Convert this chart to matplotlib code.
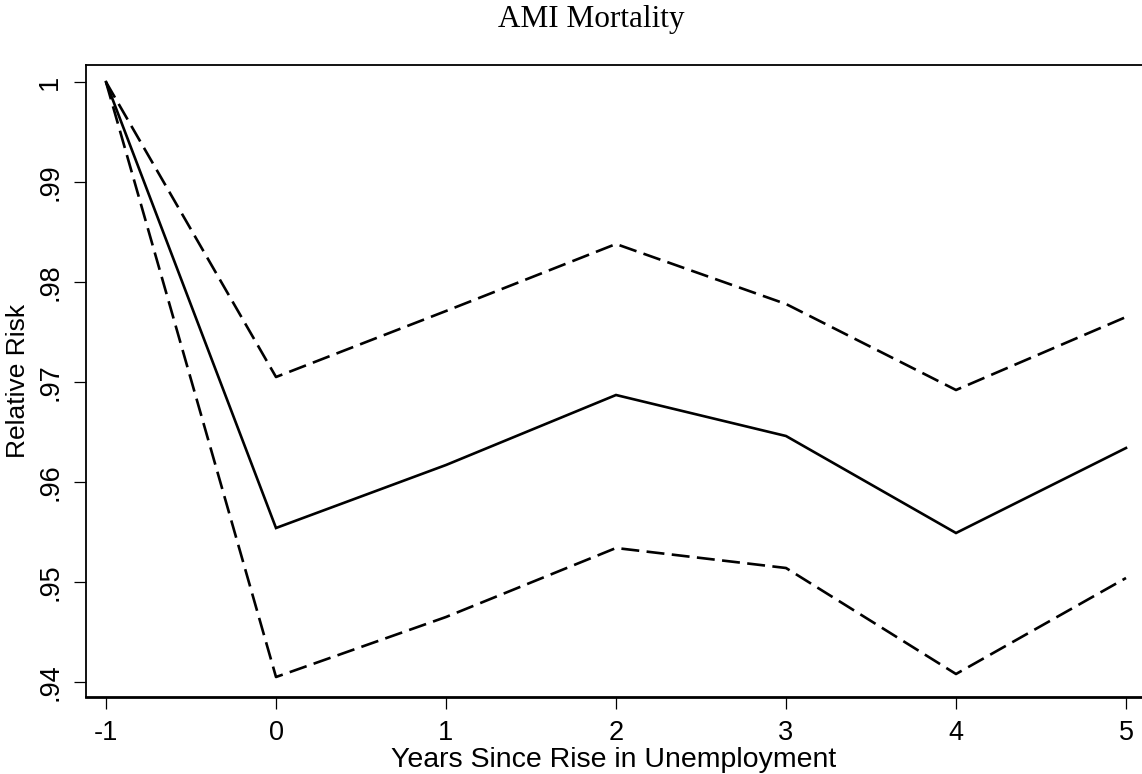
import matplotlib
matplotlib.use("Agg")
import matplotlib.pyplot as plt

# relative risk by year since the rise in unemployment, with 95% bounds
years = [-1, 0, 1, 2, 3, 4, 5]
estimate = [1.0, 0.9554, 0.9617, 0.9687, 0.9646, 0.9549, 0.9634]
upper = [1.0, 0.9705, 0.9771, 0.9838, 0.9778, 0.9692, 0.9765]
lower = [1.0, 0.9405, 0.9465, 0.9534, 0.9514, 0.9408, 0.9504]

y_ticks = [0.94, 0.95, 0.96, 0.97, 0.98, 0.99, 1.0]
y_labels = [".94", ".95", ".96", ".97", ".98", ".99", "1"]

sans = "Liberation Sans"
serif = "Liberation Serif"

fig = plt.figure(figsize=(11.42, 7.74), dpi=100)
ax = fig.add_axes([86 / 1142, 1 - 697 / 774, 1 - 86 / 1142, (697 - 65) / 774])

ax.plot(years, estimate, color="black", lw=1.9, solid_joinstyle="miter")
for band in (upper, lower):
    ax.plot(years, band, color="black", lw=1.9, dashes=(6.8, 2.8))

ax.set_xlim(-1 - 20 / 170, 5 + 16 / 170)
ax.set_ylim(0.94 - 0.0015, 1.0017)

ax.set_xticks(years)
ax.set_xticklabels([str(y) for y in years], fontfamily=sans, fontsize=19.5)
ax.set_yticks(y_ticks)
ax.set_yticklabels(y_labels, fontfamily=sans, fontsize=19.5, rotation=90, va="center")

ax.tick_params(axis="both", direction="out", length=8.5, width=0.9, pad=8)

ax.spines["right"].set_visible(False)
for side in ("left", "top", "bottom"):
    ax.spines[side].set_linewidth(1.3)
ax.spines["bottom"].set_linewidth(2.0)

ax.set_xlabel("Years Since Rise in Unemployment", fontfamily=sans, fontsize=20.5, labelpad=1)
ax.set_ylabel("Relative Risk", fontfamily=sans, fontsize=19, labelpad=5)

fig.text(591 / 1142, 1 - 20 / 774, "AMI Mortality", fontfamily=serif, fontsize=22.5,
         ha="center", va="center")

fig.savefig("out.png", dpi=100)
